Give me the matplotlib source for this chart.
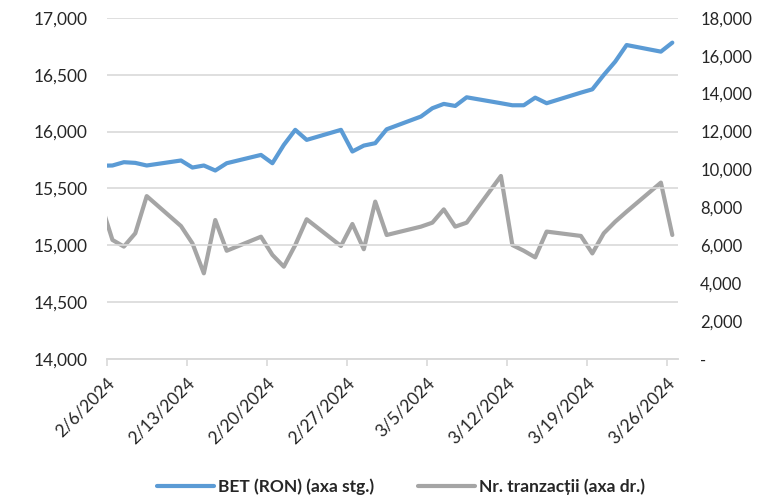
import matplotlib
matplotlib.use("Agg")
import matplotlib.pyplot as plt
import matplotlib.ticker as mticker
import pandas as pd

# -- stil ---------------------------------------------------------------
plt.rcParams.update({"font.family": ["Lato", "DejaVu Sans"], "figure.dpi": 100})
ALBASTRU = "#5B9BD5"
GRI      = "#A5A5A5"
GRILA    = "#D9D9D9"
TEXT     = "#262626"
FS       = 12.5

# -- date ---------------------------------------------------------------
zile = pd.to_datetime([
    "2024-02-05", "2024-02-06", "2024-02-07", "2024-02-08", "2024-02-09",
    "2024-02-12", "2024-02-13", "2024-02-14", "2024-02-15", "2024-02-16",
    "2024-02-19", "2024-02-20", "2024-02-21", "2024-02-22", "2024-02-23",
    "2024-02-26", "2024-02-27", "2024-02-28", "2024-02-29", "2024-03-01",
    "2024-03-04", "2024-03-05", "2024-03-06", "2024-03-07", "2024-03-08",
    "2024-03-11", "2024-03-12", "2024-03-13", "2024-03-14", "2024-03-15",
    "2024-03-18", "2024-03-19", "2024-03-20", "2024-03-21", "2024-03-22",
    "2024-03-25", "2024-03-26",
])
bet = [15700, 15702, 15731, 15725, 15702,
       15746, 15684, 15702, 15658, 15722,
       15795, 15722, 15883, 16015, 15927,
       16015, 15825, 15877, 15898, 16020,
       16132, 16205, 16243, 16225, 16301,
       16249, 16231, 16231, 16298, 16249,
       16342, 16371, 16497, 16614, 16760,
       16702, 16781]
tranzactii = [8200, 6290, 5940, 6640, 8600,
              7020, 6110, 4530, 7340, 5720,
              6460, 5500, 4880, 6020, 7380,
              5970, 7130, 5800, 8310, 6550,
              6990, 7200, 7900, 6990, 7200,
              9660, 6020, 5720, 5370, 6730,
              6500, 5580, 6640, 7250, 7780,
              9310, 6550]
etichete_x = pd.date_range("2024-02-06", "2024-03-26", freq="7D")

# punctele stau la mijlocul zilei (ca la axa de tip data din Excel)
x = zile + pd.Timedelta(hours=12)

# -- grafic -------------------------------------------------------------
fig, ax = plt.subplots(figsize=(7.58, 5.0))
fig.subplots_adjust(left=0.1408, right=0.8945, bottom=0.2814, top=0.9646)
ax2 = ax.twinx()

l1, = ax.plot(x, bet, color=ALBASTRU, lw=3.0, solid_capstyle="round",
              solid_joinstyle="round", label="BET (RON) (axa stg.)", zorder=3)
l2, = ax2.plot(x, tranzactii, color=GRI, lw=3.0, solid_capstyle="round",
               solid_joinstyle="round", label="Nr. tranzacții (axa dr.)")
ax.set_zorder(ax2.get_zorder() + 1)
ax.patch.set_visible(False)

ax.set_xlim(pd.Timestamp("2024-02-06"), pd.Timestamp("2024-03-27"))
ax.set_ylim(14000, 17000)
ax.set_yticks(range(14000, 17001, 500))
ax.yaxis.set_major_formatter(mticker.FuncFormatter(lambda v, p: f"{int(v):,}"))
ax2.set_ylim(0, 18000)
ax2.set_yticks(range(0, 18001, 2000))
ax2.yaxis.set_major_formatter(
    mticker.FuncFormatter(lambda v, p: "-" if v == 0 else f"{int(v):,}"))

ax.grid(axis="y", color=GRILA, lw=1.2)
ax.set_axisbelow(True)
for a in (ax, ax2):
    for s in ("top", "right", "left"):
        a.spines[s].set_visible(False)
    a.spines["bottom"].set_color(GRILA)
    a.spines["bottom"].set_linewidth(1.2)

ax.set_xticks(etichete_x)
ax.set_xticklabels([f"{d.month}/{d.day}/{d.year}" for d in etichete_x],
                   rotation=45, ha="right", rotation_mode="anchor")
ax.tick_params(axis="x", length=5, color=GRILA, width=1.2, pad=6,
               labelsize=FS, labelcolor=TEXT)
ax.tick_params(axis="y", length=0, pad=14, labelsize=FS, labelcolor=TEXT)
ax2.tick_params(axis="y", length=0, pad=16, labelsize=12, labelcolor=TEXT)

fig.legend([l1, l2], [l1.get_label(), l2.get_label()], loc="center",
           bbox_to_anchor=(0.529, 0.026), ncol=2, frameon=False,
           handlelength=3.3, columnspacing=2.5, handletextpad=0.25,
           prop={"size": FS, "weight": "bold"}, labelcolor=TEXT)

fig.savefig("out.png", dpi=100)
